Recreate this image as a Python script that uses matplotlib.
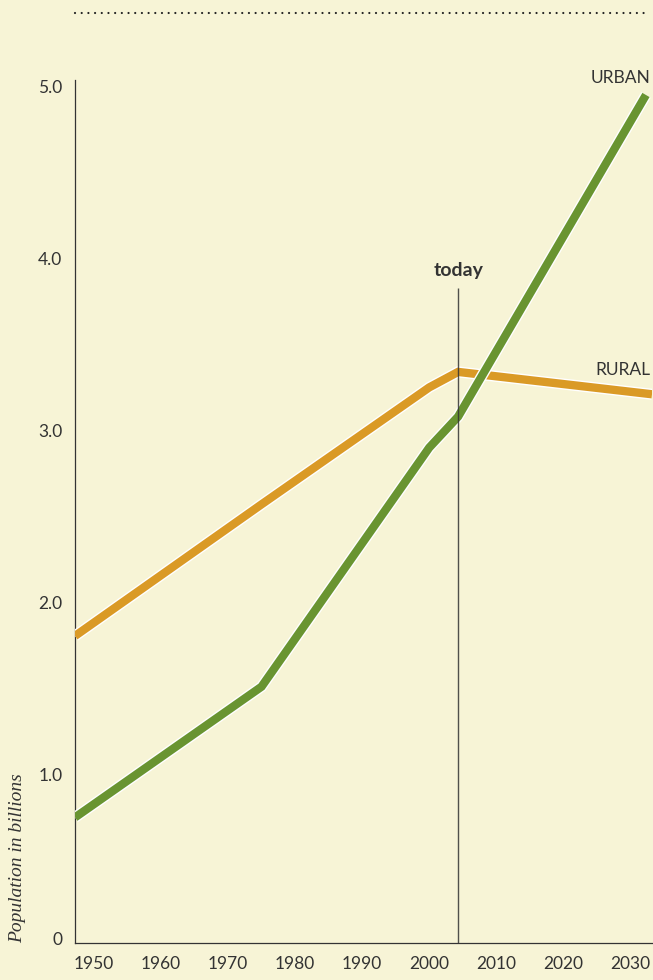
"""Urban vs rural population, 1950-2030."""

import matplotlib
import matplotlib.pyplot as plt
import matplotlib.patheffects as pe
import matplotlib.transforms as mtransforms
from matplotlib.lines import Line2D

matplotlib.use("Agg")

# data (billions)
urban_years = [1947.2, 1975, 2000, 2004.3, 2032.3]
urban_pop = [0.73, 1.49, 2.88, 3.06, 4.93]
rural_years = [1947.2, 1975, 2000, 2004.3, 2033.2]
rural_pop = [1.785, 2.55, 3.23, 3.32, 3.19]

year_ticks = [1950, 1960, 1970, 1980, 1990, 2000, 2010, 2020, 2030]
pop_ticks = [0, 1, 2, 3, 4, 5]
pop_labels = ["0", "1.0", "2.0", "3.0", "4.0", "5.0"]
today_year = 2004.3

BG = "#f7f4d6"
ORANGE = "#da9a26"
GREEN = "#699431"
INK = "#333333"

plt.rcParams["font.family"] = ["Lato", "DejaVu Sans"]

W, H = 653, 980
fig = plt.figure(figsize=(W / 100, H / 100), dpi=100, facecolor=BG)
ax = fig.add_axes([75 / W, 1 - 943 / H, (652 - 75) / W, (943 - 80) / H])
ax.set_facecolor(BG)

outline = [pe.Stroke(linewidth=8.0, foreground="white"), pe.Normal()]
ax.plot(rural_years, rural_pop, color=ORANGE, linewidth=6,
        solid_capstyle="butt", solid_joinstyle="miter", path_effects=outline, zorder=3)
ax.plot(urban_years, urban_pop, color=GREEN, linewidth=6,
        solid_capstyle="butt", solid_joinstyle="miter", path_effects=outline, zorder=4)

# today marker
ax.vlines(today_year, 0, 3.81, color=INK, linewidth=1.0, alpha=0.85, zorder=5, clip_on=False)
ax.text(today_year, 3.88, "today", ha="center", va="baseline", fontsize=14,
        fontweight="bold", color=INK, clip_on=False)

ax.text(2033.0, 5.03, "URBAN", ha="right", va="center", fontsize=12.5, color=INK, clip_on=False)
ax.text(2033.0, 3.33, "RURAL", ha="right", va="center", fontsize=12.5, color=INK, clip_on=False)

ax.set_xlim(1947.2, 2033.2)
ax.set_ylim(0, 5.017)
ax.set_xticks(year_ticks)
ax.set_xticklabels([str(y) for y in year_ticks])
ax.set_yticks(pop_ticks)
ax.set_yticklabels(pop_labels)
ax.tick_params(length=0, labelsize=12.5, colors=INK)
ax.tick_params(axis="y", pad=9)
ax.tick_params(axis="x", pad=9)
for side in ["top", "right"]:
    ax.spines[side].set_visible(False)
for side in ["left", "bottom"]:
    ax.spines[side].set_color(INK)
    ax.spines[side].set_linewidth(0.9)

# y labels sit a little below their values, the zero a little above
for lbl, val in zip(ax.get_yticklabels(), pop_ticks):
    dy = 5 if val == 0 else -4
    lbl.set_transform(lbl.get_transform() + mtransforms.ScaledTranslation(0, dy / 100, fig.dpi_scale_trans))

fig.text(18 / W, 1 - 943 / H, "Population in billions", rotation=90, ha="center",
         va="bottom", fontsize=14, style="italic", family=["Liberation Serif"], color=INK)

# dotted rule at the top
fig.add_artist(Line2D([75 / W, 647 / W], [1 - 13 / H, 1 - 13 / H], transform=fig.transFigure,
                      color="#222222", linewidth=1.6, linestyle=(0, (0.01, 3.0)),
                      dash_capstyle="round"))

fig.savefig("out.png", dpi=100, facecolor=BG)
